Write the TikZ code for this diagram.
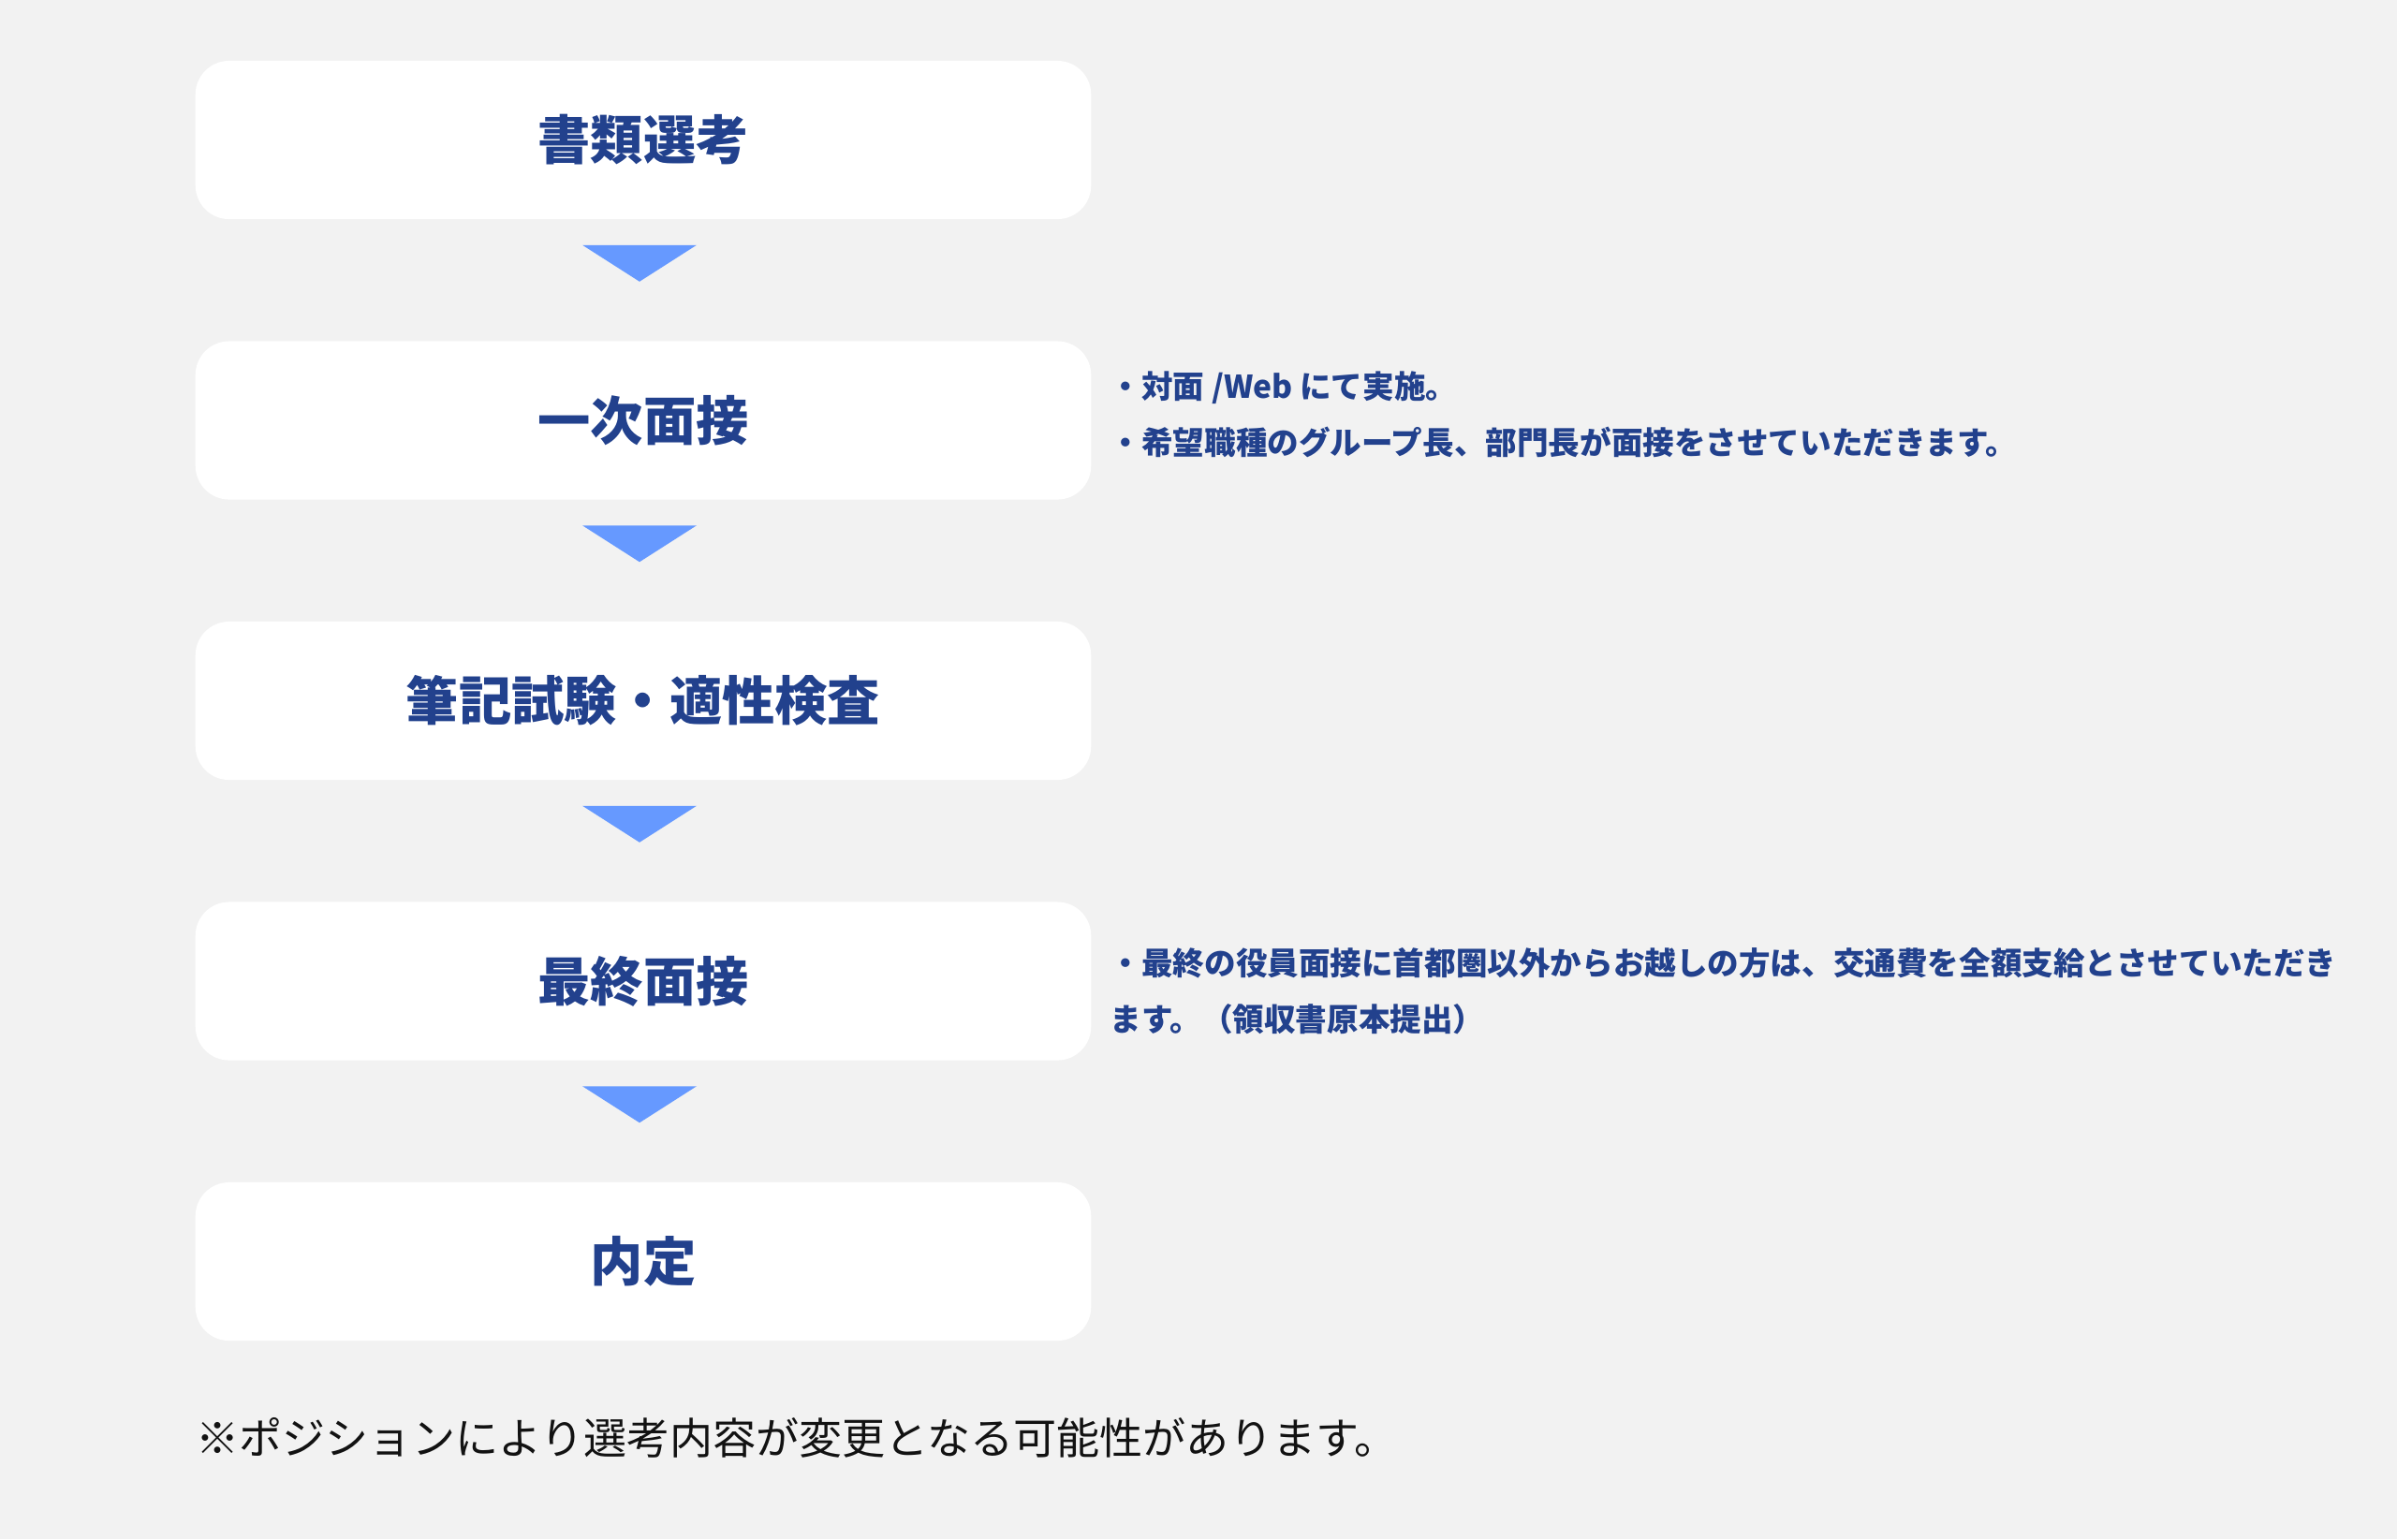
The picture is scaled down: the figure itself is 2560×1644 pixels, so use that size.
\documentclass[tikz,border=0pt]{standalone}
\usepackage{fontspec}
\newfontfamily\jpfont{Noto Sans CJK JP}
\usetikzlibrary{calc,positioning}
\definecolor{bgGrey}{HTML}{F2F2F2}
\definecolor{stepBlue}{HTML}{22418D}
\definecolor{arrowBlue}{HTML}{6699FF}
\tikzset{
	stepbox/.style={fill=white, rounded corners=0.36cm, minimum width=9.56cm, minimum height=1.69cm, inner sep=0, text=stepBlue, font=\jpfont\bfseries\fontsize{16}{16}\selectfont},
	notetext/.style={anchor=west, align=left, inner sep=0, text=stepBlue, font=\jpfont\bfseries\fontsize{9.55}{17}\selectfont},
	footnotetext/.style={anchor=west, inner sep=0, text=black!93, font=\jpfont\fontsize{13.1}{13.1}\selectfont}
}

\begin{document}
\begin{tikzpicture}[x=0.01cm, y=-0.01cm]
			%%%%% START %%%%%
			
			\fill[bgGrey] (0, 0) rectangle (2560, 1644);
			\useasboundingbox (0, 0) rectangle (2560, 1644);
			
			\node[stepbox] (b1) at (687, 149.5) {書類選考};
			\node[stepbox] (b2) at (687, 449) {一次面接};
			\node[stepbox] (b3) at (687, 748.5) {筆記試験・適性検査};
			\node[stepbox] (b4) at (687, 1048) {最終面接};
			\node[stepbox] (b5) at (687, 1347.5) {内定};
			
			\foreach \s in {b1, b2, b3, b4}
				\fill[arrowBlue] ($(\s.south)+(-65, 27)$) -- ($(\s.south)+(57, 27)$) -- ($(\s.south)+(-4, 66)$) -- cycle;
			
			\node[notetext] (n2) at (1185, 443) {・対面 /Web にて実施。\\・希望職種のグループ長、部門長が面接をさせていただきます。};
			\node[notetext] (n4) at (1185, 1059) {・最終の役員面接に首都圏以外からお越しの方は、交通費を全額支給とさせていただき\\ます。（領収書原本提出）};
			
			\node[footnotetext] (fn) at (209, 1536) {※ポジションにより選考内容が変更となる可能性があります。};
			
			%%%%% END %%%%%
\end{tikzpicture}
\end{document}
